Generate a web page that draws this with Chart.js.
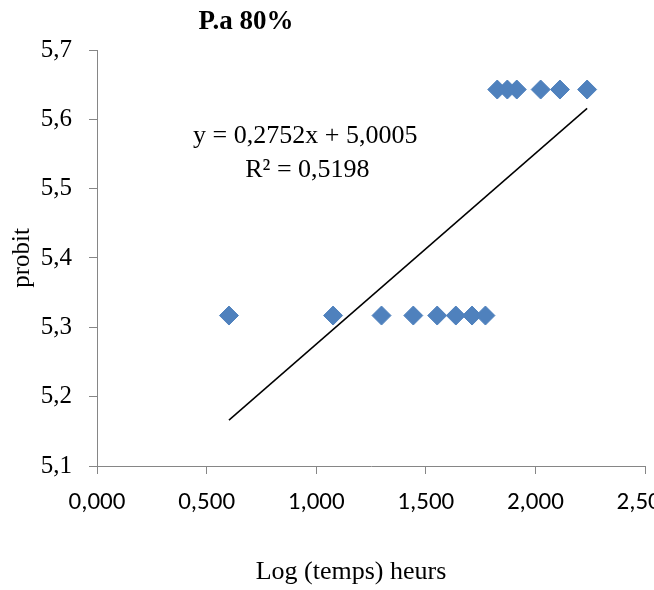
<!DOCTYPE html>
<html>
<head>
<meta charset="utf-8">
<title>P.a 80%</title>
<script src="https://cdn.jsdelivr.net/npm/chart.js@4.4.1/dist/chart.umd.min.js"></script>
<style>
    html, body { margin: 0; padding: 0; background: #fff; overflow: hidden; }
    #chart { display: block; }
</style>
</head>
<body>
<canvas id="chart" width="700" height="590"></canvas>
<script>
// Data
const logTemps = [0.602, 1.077, 1.298, 1.443, 1.552, 1.637, 1.711, 1.772,
                  1.826, 1.872, 1.915, 2.024, 2.112, 2.236];
const probits = [5.317, 5.317, 5.317, 5.317, 5.317, 5.317, 5.317, 5.317,
                 5.643, 5.643, 5.643, 5.643, 5.643, 5.643];
const xTicks = [0, 0.5, 1, 1.5, 2, 2.5];
const yTicks = [5.1, 5.2, 5.3, 5.4, 5.5, 5.6, 5.7];

// Linear trendline shown on the chart
const slope = 0.2752;
const intercept = 5.0005;
const rSquared = 0.5198;

const serif = '"Liberation Serif", "Times New Roman", serif';
const axisGray = '#868686';

const points = logTemps.map((x, i) => ({ x: x, y: probits[i] }));
const xMin = Math.min(...logTemps);
const xMax = Math.max(...logTemps);
const trend = [xMin, xMax].map(x => ({ x: x, y: slope * x + intercept }));

function fmt(v, d) {
    return v.toFixed(d).replace('.', ',');
}

// Title, equation and x axis title
const textPlugin = {
    id: 'texts',
    afterDraw(chart) {
        const { ctx } = chart;
        const x = chart.scales.x;
        const y = chart.scales.y;
        ctx.save();
        ctx.fillStyle = '#000';
        ctx.textAlign = 'center';
        ctx.textBaseline = 'middle';
        ctx.font = 'bold 27px ' + serif;
        ctx.fillText('P.a 80%', 246, 22);
        ctx.font = '26px ' + serif;
        ctx.fillText('y = ' + fmt(slope, 4) + 'x + ' + fmt(intercept, 4),
            x.getPixelForValue(0.95), y.getPixelForValue(5.575));
        ctx.fillText('R² = ' + fmt(rSquared, 4),
            x.getPixelForValue(0.96), y.getPixelForValue(5.527));
        ctx.fillText('Log (temps) heurs', 351, 572);
        ctx.restore();
    }
};

new Chart(document.getElementById('chart'), {
    type: 'scatter',
    data: {
        datasets: [{
            label: 'Linéaire',
            data: trend,
            showLine: true,
            borderColor: '#000',
            borderWidth: 1.5,
            pointRadius: 0,
            order: 0
        }, {
            label: 'probit',
            data: points,
            pointStyle: 'rectRot',
            pointRadius: 9.5,
            pointBackgroundColor: '#4F81BD',
            pointBorderColor: '#4F81BD',
            pointBorderWidth: 1,
            order: 1
        }]
    },
    options: {
        responsive: false,
        animation: false,
        layout: { padding: { left: 0, right: 55, top: 50, bottom: 0 } },
        plugins: {
            legend: { display: false },
            title: { display: false },
            tooltip: { enabled: false }
        },
        scales: {
            x: {
                type: 'linear',
                min: 0,
                max: 2.5,
                afterBuildTicks: s => { s.ticks = xTicks.map(v => ({ value: v })); },
                afterFit: s => { s.height = 124; },
                ticks: {
                    padding: 14,
                    color: '#000',
                    font: { family: 'Carlito, Lato, sans-serif', size: 25 },
                    callback: v => fmt(v, 3)
                },
                grid: { drawOnChartArea: false, drawTicks: true, tickLength: 8, color: axisGray },
                border: { color: axisGray, width: 1 }
            },
            y: {
                type: 'linear',
                min: 5.1,
                max: 5.7,
                afterBuildTicks: s => { s.ticks = yTicks.map(v => ({ value: v })); },
                afterFit: s => { s.width = 97; },
                ticks: {
                    padding: 17,
                    color: '#000',
                    font: { family: serif, size: 25 },
                    callback: v => fmt(v, 1)
                },
                grid: { drawOnChartArea: false, drawTicks: true, tickLength: 8, color: axisGray },
                border: { color: axisGray, width: 1 },
                title: {
                    display: true,
                    text: 'probit',
                    color: '#000',
                    font: { family: serif, size: 25 },
                    padding: { top: 7, bottom: 0 }
                }
            }
        }
    },
    plugins: [textPlugin]
});
</script>
</body>
</html>
